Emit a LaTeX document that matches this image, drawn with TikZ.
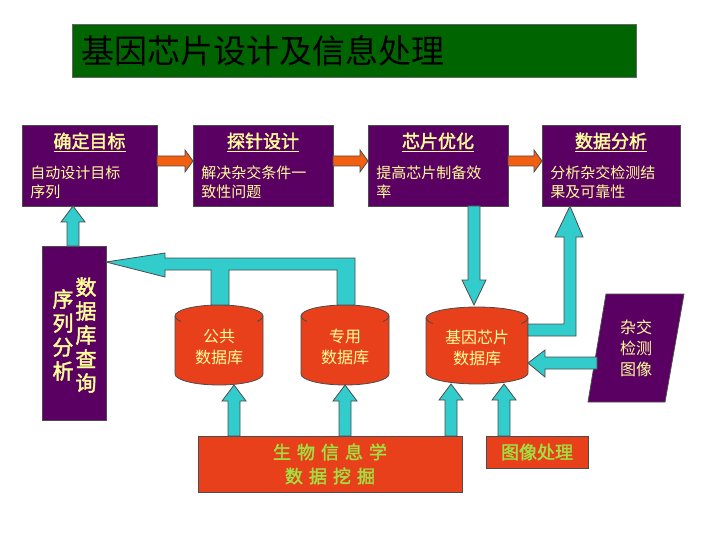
\documentclass[tikz,border=0pt]{standalone}
\usepackage{fontspec}
\setmainfont{Noto Sans CJK SC}
\newfontfamily\cjkb[FakeBold=2]{Noto Sans CJK SC}
\begin{document}
\begin{tikzpicture}[x=1pt,y=1pt,line width=0.8pt,
 pbox/.style={fill=purp,draw=black!70},
 rbox/.style={fill=redo,draw=black!70},
 cy/.style={fill=cyanb,draw=black!70,line join=miter},
 or/.style={fill=orng,draw=black!70},
 ytext/.style={text=yel,font=\fontsize{15}{19}\selectfont,align=left},
 head/.style={text=yel,font=\cjkb\fontsize{18}{22}\selectfont},
 gtext/.style={text=grn,font=\cjkb\fontsize{18}{24}\selectfont,align=center}]
\definecolor{purp}{HTML}{5A0062}
\definecolor{redo}{HTML}{E8401A}
\definecolor{cyanb}{HTML}{33CCCC}
\definecolor{orng}{HTML}{F06010}
\definecolor{yel}{HTML}{FFFF99}
\definecolor{grn}{HTML}{A0E040}
\definecolor{tgreen}{HTML}{006400}
\useasboundingbox (0,0) rectangle (720,-540);
\newcommand\cyup[3]{\draw[cy] ({#1-6},{-#2}) -- ({#1-6},{-#3-16}) -- ({#1-12},{-#3-16}) -- (#1,{-#3}) -- ({#1+12},{-#3-16}) -- ({#1+6},{-#3-16}) -- ({#1+6},{-#2}) -- cycle;}
\newcommand\cyl[6]{% name cx rx top bottom text
 \draw[rbox] ({#2-#3},{-#4-11}) -- ({#2-#3},{-#5+11}) arc[start angle=180,end angle=360,x radius=#3,y radius=11] -- ({#2+#3},{-#4-11}) arc[start angle=0,end angle=180,x radius=#3,y radius=11] -- cycle;
 \draw[black!70] ({#2-#3},{-#4-11}) arc[start angle=180,end angle=210,x radius=#3,y radius=11];
 \draw[black!70] ({#2+#3},{-#4-11}) arc[start angle=0,end angle=-30,x radius=#3,y radius=11];
 \node[text=yel,font=\fontsize{16}{21}\selectfont,align=center] (#1) at (#2,{-(#4+#5)/2-2}) {#6};}
% title
\node[fill=tgreen,draw=black!60,minimum width=564,minimum height=53,anchor=north west,inner sep=0] (title) at (72,-24) {};
\node[anchor=west,font=\fontsize{33}{36}\selectfont,text=black] at (78,-51) {基因芯片设计及信息处理};
% top boxes
\foreach \n/\xa/\xb/\h/\t in {b1/22/157/确定目标/{自动设计目标\\序列}, b2/193/333/探针设计/{解决杂交条件一\\致性问题}, b3/368/508/芯片优化/{提高芯片制备效\\率}, b4/542/680/数据分析/{分析杂交检测结\\果及可靠性}}{
 \draw[pbox] (\xa,-125) rectangle (\xb,-206);
 \node[head] at ({(\xa+\xb)/2},-142) {\underline{\h}};
 \node[ytext,anchor=north west,inner sep=0] at (\xa+8,-165) {\t};
}
% orange arrows
\foreach \xa/\xb in {157/193,333/368,508/542}{
 \draw[or] (\xa,-156) -- ({\xb-8},-156) -- ({\xb-8},-150) -- (\xb,-161) -- ({\xb-8},-172) -- ({\xb-8},-166) -- (\xa,-166) -- cycle;
}
% left vertical box
\draw[pbox] (42,-246) rectangle (106,-420) coordinate (vb);
\node[text=yel,font=\cjkb\fontsize{21}{24}\selectfont,align=center] at (63,-335) {序\\列\\分\\析};
\node[text=yel,font=\cjkb\fontsize{21}{24}\selectfont,align=center] at (86,-335) {数\\据\\库\\查\\询};
\cyup{73}{246}{206}
% cylinders
\cyl{c1}{219}{44}{305}{385}{公共\\数据库}
\cyl{c2}{345}{44}{305}{385}{专用\\数据库}
\cyl{c3}{477}{51}{307}{384}{基因芯片\\数据库}
% horizontal bar to left box
\draw[cy] (211,-305) -- (211,-270) -- (165,-270) -- (165,-277) -- (106,-262) -- (165,-253) -- (165,-258) -- (355,-258) -- (355,-305) -- (337,-305) -- (337,-270) -- (229,-270) -- (229,-305) -- cycle;
% down arrow to c3
\draw[cy] (468,-206) -- (468,-280) -- (462,-280) -- (474,-305) -- (486,-280) -- (480,-280) -- (480,-206) -- cycle;
% right up arrow from c3
\draw[cy] (528,-324) -- (564,-324) -- (564,-237) -- (555,-237) -- (570,-206) -- (583,-237) -- (576,-237) -- (576,-336) -- (528,-336) -- cycle;
% parallelogram
\draw[pbox] (606,-294) -- (684,-294) -- (665,-402) -- (588,-402) -- cycle;
\node[text=yel,font=\fontsize{16}{21}\selectfont,align=center] (hyb) at (636,-348) {杂交\\检测\\图像};
\draw[cy] (597,-357) -- (545,-357) -- (545,-350) -- (528,-363) -- (545,-377) -- (545,-369) -- (597,-369) -- cycle;
% bottom boxes
\draw[rbox] (198,-436) rectangle (462,-492);
\node[gtext] (bio) at (330,-464) {生\,\,物\,\,信\,\,息\,\,学\\数\,\,据\,\,挖\,\,掘};
\draw[rbox] (486,-436) rectangle (588,-468);
\node[gtext] (img) at (537,-452) {图像处理};
\cyup{234}{436}{385}
\cyup{345}{436}{385}
\cyup{451}{436}{384}
\cyup{504}{436}{384}
\end{tikzpicture}
\end{document}
